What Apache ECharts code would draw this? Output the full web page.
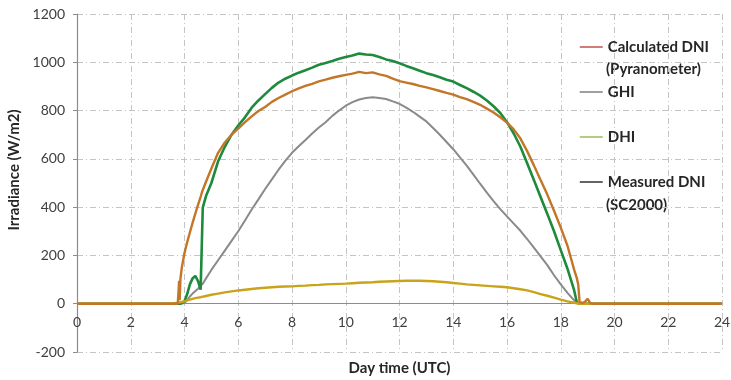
<!DOCTYPE html>
<html>
<head>
<meta charset="utf-8">
<script src="https://cdn.jsdelivr.net/npm/echarts@6/dist/echarts.min.js"></script>
<style>
  html, body { margin: 0; padding: 0; background: #fff; }
  #chart { width: 731px; height: 380px; }
</style>
</head>
<body>
<div id="chart"></div>
<script>
// Time of day (UTC hours) shared by all four irradiance records
const hours = [
  0, 1, 2, 3, 3.5, 3.75, 3.8, 3.82, 3.85, 3.9,
  4.0, 4.1, 4.2, 4.3, 4.4, 4.5, 4.6, 4.66, 4.68, 4.8,
  5.0, 5.25, 5.5, 5.75, 6.0, 6.25, 6.5, 6.75, 7.0, 7.25, 7.5, 7.75,
  8.0, 8.25, 8.5, 8.75, 9.0, 9.25, 9.5, 9.75, 10.0, 10.25, 10.5, 10.75,
  11.0, 11.25, 11.5, 11.75, 12.0, 12.25, 12.5, 12.75, 13.0, 13.25, 13.5, 13.75,
  14.0, 14.25, 14.5, 14.75, 15.0, 15.25, 15.5, 15.75, 16.0, 16.25, 16.5, 16.75,
  17.0, 17.25, 17.5, 17.75, 18.0, 18.25, 18.5, 18.6, 18.65, 18.7,
  18.8, 18.9, 19.0, 19.1, 19.25, 19.5, 20, 21, 22, 23, 24
];

// Calculated DNI from the pyranometer (W/m2)
const calculatedDNI = [
  0, 0, 0, 0, 0, 0, 95, 15, 105, 150,
  210, 255, 295, 335, 372, 408, 443, 465, 470, 505,
  560, 625, 668, 700, 725, 752, 776, 798, 815, 836, 852, 866,
  880, 892, 902, 911, 921, 928, 936, 942, 948, 953, 960, 955,
  958, 950, 944, 932, 922, 916, 910, 902, 896, 889, 881, 873,
  866, 856, 847, 836, 824, 808, 792, 772, 750, 722, 684, 632,
  573, 512, 452, 385, 315, 240, 140, 105, 80, 8,
  3, 8, 20, 2, 0, 0, 0, 0, 0, 0, 0
];

// Global horizontal irradiance (W/m2)
const ghi = [
  0, 0, 0, 0, 0, 0, 0, 0, 0, 0,
  3, 15, 30, 42, 52, 62, 74, 80, 83, 105,
  140, 180, 220, 260, 300, 345, 390, 432, 475, 515, 555, 592,
  625, 652, 678, 705, 730, 752, 778, 800, 820, 835, 846, 852,
  855, 852, 848, 838, 828, 812, 795, 775, 755, 728, 700, 670,
  640, 606, 572, 535, 497, 460, 425, 392, 362, 332, 302, 268,
  232, 196, 160, 118, 80, 45, 14, 4, 0, 0,
  0, 0, 0, 0, 0, 0, 0, 0, 0, 0, 0
];

// Diffuse horizontal irradiance (W/m2)
const dhi = [
  0, 0, 0, 0, 0, 4, 5, 5, 6, 7,
  10, 14, 17, 20, 23, 25, 27, 29, 29, 32,
  37, 42, 47, 51, 55, 58, 61, 64, 66, 68, 70, 71,
  72, 74, 75, 77, 78, 80, 81, 82, 83, 85, 87, 88,
  89, 91, 92, 93, 94, 95, 95, 95, 94, 93, 91, 89,
  86, 83, 80, 78, 76, 74, 72, 70, 68, 64, 60, 55,
  48, 40, 33, 25, 17, 10, 4, 2, 0, 0,
  0, 0, 0, 0, 0, 0, 0, 0, 0, 0, 0
];

// DNI measured by the SC2000 pyrheliometer (W/m2)
const measuredDNI = [
  0, 0, 0, 0, 0, 0, 0, 0, 0, 2,
  10, 40, 80, 105, 115, 95, 58, 54, 398, 446,
  500, 590, 650, 700, 738, 772, 812, 842, 868, 894, 916, 932,
  945, 957, 967, 978, 990, 997, 1005, 1015, 1022, 1028, 1036, 1032,
  1030, 1022, 1012, 1005, 996, 985, 975, 965, 955, 947, 938, 928,
  920, 906, 893, 878, 862, 842, 818, 790, 752, 705, 650, 582,
  512, 442, 372, 300, 222, 145, 55, 5, 0, 0,
  0, 0, 0, 0, 0, 0, 0, 0, 0, 0, 0
];

const hourTicks = { min: 0, max: 24, step: 2 };
const irradianceTicks = { min: -200, max: 1200, step: 200 };

const pairs = vals => hours.map((h, i) => [h, vals[i]]);

const FONT = 'Lato, "Open Sans", sans-serif';
const gridDash = { color: '#c4c4c4', width: 1, type: [6, 3, 1, 3] };
const noSymbol = { color: 'rgba(0,0,0,0)', borderColor: 'rgba(0,0,0,0)', borderWidth: 0 };

// plot box
const GRID = { left: 77, right: 9, top: 14, bottom: 28 };
const plotHeight = 380 - GRID.top - GRID.bottom;
// lift the hour axis from the bottom edge up to the zero line
const zeroLift = plotHeight * (0 - irradianceTicks.min) / (irradianceTicks.max - irradianceTicks.min);

const chart = echarts.init(document.getElementById('chart'));
chart.setOption({
  animation: false,
  backgroundColor: '#ffffff',
  grid: Object.assign({ containLabel: false, outerBoundsMode: 'none' }, GRID),
  xAxis: {
    type: 'value',
    min: hourTicks.min, max: hourTicks.max, interval: hourTicks.step,
    position: 'bottom',
    offset: -zeroLift,
    name: 'Day time (UTC)',
    nameLocation: 'middle',
    nameGap: 57,
    nameTextStyle: { fontFamily: FONT, fontWeight: 'bold', fontSize: 15, color: '#262626' },
    axisLine: { onZero: false, lineStyle: { color: '#8c8c8c', width: 1.2 } },
    axisTick: { show: false },
    axisLabel: { fontFamily: FONT, fontSize: 14, color: '#404040', margin: 12, formatter: v => String(v) },
    splitLine: { show: true, lineStyle: gridDash }
  },
  yAxis: {
    type: 'value',
    min: irradianceTicks.min, max: irradianceTicks.max, interval: irradianceTicks.step,
    name: 'Irradiance (W/m2)',
    nameLocation: 'middle',
    nameGap: 52,
    nameRotate: 90,
    nameTextStyle: { fontFamily: FONT, fontWeight: 'bold', fontSize: 15, color: '#262626', padding: [0, 0, 0, 26] },
    axisLine: { show: true, lineStyle: { color: '#8c8c8c', width: 1.2 } },
    axisTick: { show: true, length: 4, lineStyle: { color: '#8c8c8c' } },
    axisLabel: { fontFamily: FONT, fontSize: 14, color: '#404040', margin: 12, formatter: v => String(v) },
    splitLine: { show: true, lineStyle: gridDash }
  },
  legend: {
    orient: 'vertical',
    left: 579,
    top: 39,
    padding: 0,
    itemWidth: 23,
    itemHeight: 14,
    itemGap: 29,
    selectedMode: false,
    textStyle: { fontFamily: FONT, fontWeight: 'bold', fontSize: 15, lineHeight: 16, color: '#262626' },
    data: [
      { name: 'Calculated DNI', lineStyle: { color: '#c0504d', width: 1.5 }, itemStyle: noSymbol },
      { name: 'GHI', lineStyle: { color: '#7f7f7f', width: 1.5 }, itemStyle: noSymbol },
      { name: 'DHI', lineStyle: { color: '#9bbb59', width: 1.5 }, itemStyle: noSymbol },
      { name: 'Measured DNI', lineStyle: { color: '#303030', width: 1.5 }, itemStyle: noSymbol }
    ]
  },
  graphic: [
    { type: 'text', left: 606, top: 62,
      style: { text: '(Pyranometer)', font: 'bold 15px ' + FONT, fill: '#262626' } },
    { type: 'text', left: 606, top: 198,
      style: { text: '(SC2000)', font: 'bold 15px ' + FONT, fill: '#262626' } }
  ],
  series: [
    { name: 'GHI', type: 'line', symbol: 'none', data: pairs(ghi),
      lineStyle: { color: '#8a8a8a', width: 2 }, itemStyle: { color: '#8a8a8a' }, z: 2 },
    { name: 'Measured DNI', type: 'line', symbol: 'none', data: pairs(measuredDNI),
      lineStyle: { color: '#1e8a3c', width: 2.6 }, itemStyle: { color: '#1e8a3c' }, z: 3 },
    { name: 'DHI', type: 'line', symbol: 'none', data: pairs(dhi),
      lineStyle: { color: '#c9a319', width: 2.4 }, itemStyle: { color: '#c9a319' }, z: 4 },
    { name: 'Calculated DNI', type: 'line', symbol: 'none', data: pairs(calculatedDNI),
      lineStyle: { color: '#c47628', width: 2.4 }, itemStyle: { color: '#c47628' }, z: 5 }
  ]
});
</script>
</body>
</html>
